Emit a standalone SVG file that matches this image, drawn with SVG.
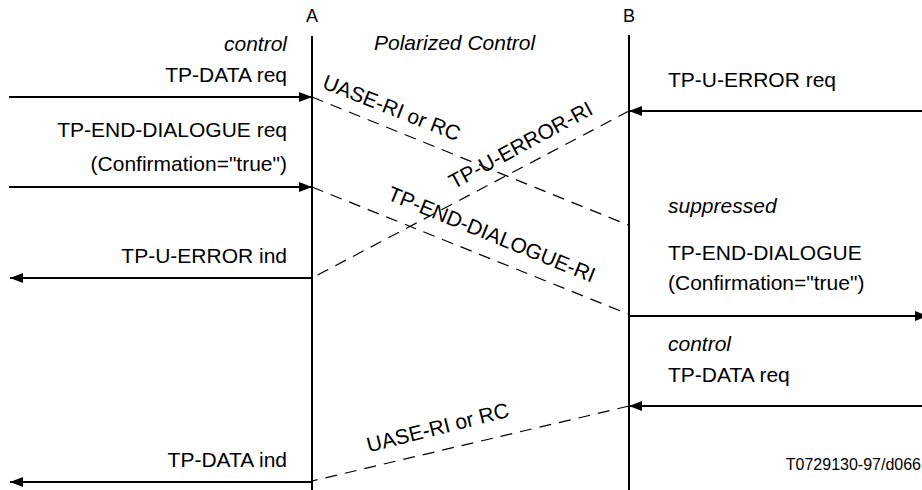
<svg xmlns="http://www.w3.org/2000/svg" width="922" height="490" viewBox="0 0 922 490">
<style>
text { font-family: "Liberation Sans", Arial, sans-serif; font-size: 21px; fill: #000; }
.it { font-style: italic; }
.hdr { font-size: 18px; text-anchor: middle; }
.r { text-anchor: end; }
.m { text-anchor: middle; }
.life { stroke: #000; stroke-width: 2; fill: none; }
.msg { stroke: #000; stroke-width: 2; fill: none; marker-end: url(#ah); }
.dash { stroke: #000; stroke-width: 1.2; fill: none; stroke-dasharray: 12 8; }
.ref { font-size: 16px; }
</style>
<defs>
<marker id="ah" markerUnits="userSpaceOnUse" markerWidth="13" markerHeight="10" refX="13" refY="5" orient="auto">
<path d="M0,0 L13,5 L0,10 z" fill="#000"/>
</marker>
</defs>
<g id="lifelineA">
<text class="hdr" x="312" y="22">A</text>
<line class="life" x1="312" y1="36" x2="312" y2="490"/>
</g>
<g id="lifelineB">
<text class="hdr" x="629" y="22">B</text>
<line class="life" x1="629" y1="35" x2="629" y2="490"/>
</g>
<g id="labelsA">
<text class="it r" x="287" y="51">control</text>
<text class="it" x="374" y="50">Polarized Control</text>
<text class="r" x="287" y="82">TP-DATA req</text>
<text class="r" x="287" y="137">TP-END-DIALOGUE req</text>
<text class="r" x="287" y="171">(Confirmation="true")</text>
<text class="r" x="287" y="263">TP-U-ERROR ind</text>
<text class="r" x="287" y="467">TP-DATA ind</text>
</g>
<g id="labelsB">
<text x="668" y="87">TP-U-ERROR req</text>
<text class="it" x="668" y="213">suppressed</text>
<text x="668" y="260">TP-END-DIALOGUE</text>
<text x="668" y="290">(Confirmation="true")</text>
<text class="it" x="668" y="351">control</text>
<text x="668" y="382">TP-DATA req</text>
<text class="ref r" x="921" y="470">T0729130-97/d066</text>
</g>
<g id="connectors">
<line class="msg" x1="9" y1="97" x2="312" y2="97"/>
<line class="msg" x1="9" y1="187" x2="312" y2="187"/>
<line class="msg" x1="312" y1="278" x2="10" y2="278"/>
<line class="msg" x1="312" y1="482" x2="10" y2="482"/>
<line class="msg" x1="922" y1="111" x2="629" y2="111"/>
<line class="msg" x1="629" y1="316" x2="928" y2="316"/>
<line class="msg" x1="922" y1="406" x2="629" y2="406"/>
<line class="dash" x1="312" y1="97" x2="628" y2="225"/>
<line class="dash" x1="312" y1="187" x2="628" y2="314"/>
<line class="dash" x1="629" y1="111" x2="312" y2="278"/>
<line class="dash" x1="629" y1="406" x2="312" y2="481"/>
</g>
<g id="connectorLabels">
<text class="m" transform="translate(389,114.5) rotate(21.5)">UASE-RI or RC</text>
<text class="m" transform="translate(489,241) rotate(22.1)">TP-END-DIALOGUE-RI</text>
<text class="m" transform="translate(524,151.5) rotate(-28.4)">TP-U-ERROR-RI</text>
<text class="m" transform="translate(439.5,434.5) rotate(-14.2)">UASE-RI or RC</text>
</g>
</svg>
